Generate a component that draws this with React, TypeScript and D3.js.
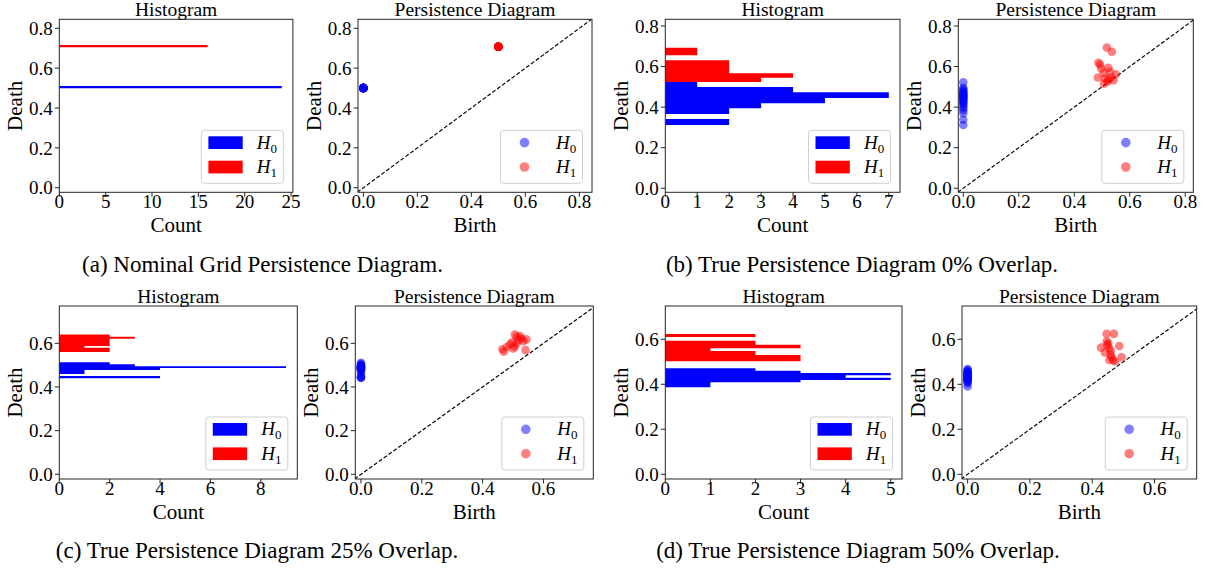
import React from "react";
import * as d3 from "d3";

const FONT = "'Liberation Serif', 'Times New Roman', serif";
const BLUE = "#0000ff";
const RED = "#ff0000";

// histogram rows: [death low, death high, count]
const histA_h0 = [[0.4988, 0.5104, 24]];
const histA_h1 = [[0.7045, 0.716, 16]];

const histB_h0 = [
  [0.4995, 0.524, 1],
  [0.4731, 0.4995, 4],
  [0.4452, 0.4731, 7],
  [0.4189, 0.4452, 5],
  [0.3943, 0.4189, 3],
  [0.3663, 0.3943, 2],
  [0.3121, 0.3417, 2],
];
const histB_h1 = [
  [0.6555, 0.6933, 1],
  [0.5667, 0.6308, 2],
  [0.5454, 0.5667, 4],
  [0.524, 0.5454, 3],
];

const histC_h0 = [
  [0.5037, 0.5129, 2],
  [0.4955, 0.5037, 3],
  [0.4875, 0.4955, 9],
  [0.4778, 0.4875, 4],
  [0.4595, 0.4778, 1],
  [0.4402, 0.4503, 4],
];
const histC_h1 = [
  [0.63, 0.641, 2],
  [0.621, 0.63, 3],
  [0.588, 0.621, 2],
  [0.58, 0.588, 1],
  [0.56, 0.58, 2],
];

const histD_h0 = [
  [0.4606, 0.471, 2],
  [0.4502, 0.4606, 3],
  [0.4399, 0.4502, 5],
  [0.4295, 0.4399, 4],
  [0.4191, 0.4295, 5],
  [0.4087, 0.4191, 3],
  [0.3865, 0.4087, 1],
];
const histD_h1 = [
  [0.61, 0.6236, 2],
  [0.5761, 0.5939, 2],
  [0.5598, 0.5761, 3],
  [0.548, 0.5598, 1],
  [0.53, 0.548, 2],
  [0.502, 0.53, 3],
];

// persistence points: [birth, death, multiplicity]
const pdA_h0 = [[0, 0.5, 24]];
const pdA_h1 = [[0.5, 0.707, 16]];

// H0 points are all born at 0, so only the deaths are listed
const pdB_h0 = [0.522, 0.495, 0.488, 0.481, 0.476, 0.471, 0.467, 0.462, 0.458, 0.454, 0.45, 0.447,
  0.443, 0.437, 0.431, 0.426, 0.421, 0.415, 0.405, 0.397, 0.385, 0.37, 0.338, 0.312];
const pdB_h1 = [
  [0.5175, 0.694], [0.5355, 0.673], [0.487, 0.619], [0.493, 0.61], [0.497, 0.59], [0.523, 0.594],
  [0.506, 0.569], [0.529, 0.574], [0.55, 0.562], [0.485, 0.546], [0.511, 0.541], [0.532, 0.546],
  [0.52, 0.525], [0.5415, 0.533], [0.507, 0.516], [0.523, 0.536],
];

const pdC_h0 = [0.511, 0.506, 0.502, 0.499, 0.497, 0.494, 0.493, 0.492, 0.491, 0.49, 0.489, 0.488,
  0.487, 0.486, 0.484, 0.482, 0.48, 0.479, 0.473, 0.463, 0.449, 0.446, 0.443, 0.441];
const pdC_h1 = [
  [0.465, 0.573], [0.47, 0.562], [0.48, 0.583], [0.49, 0.595], [0.497, 0.605], [0.506, 0.64],
  [0.512, 0.63], [0.517, 0.615], [0.523, 0.633], [0.528, 0.622], [0.534, 0.61], [0.544, 0.618],
  [0.541, 0.569], [0.506, 0.585], [0.512, 0.6], [0.5, 0.577],
];

const pdD_h0 = [0.468, 0.463, 0.458, 0.455, 0.452, 0.449, 0.447, 0.445, 0.443, 0.441, 0.438, 0.435,
  0.432, 0.43, 0.428, 0.426, 0.424, 0.422, 0.42, 0.417, 0.414, 0.411, 0.404, 0.39];
const pdD_h1 = [
  [0.446, 0.624], [0.4695, 0.624], [0.428, 0.563], [0.446, 0.59], [0.451, 0.582], [0.448, 0.575],
  [0.4866, 0.57], [0.4545, 0.56], [0.459, 0.548], [0.4406, 0.541], [0.459, 0.53], [0.494, 0.52],
  [0.462, 0.52], [0.4545, 0.508], [0.467, 0.508], [0.4727, 0.501],
];

const countTicksA = [0, 5, 10, 15, 20, 25];
const countTicksB = [0, 1, 2, 3, 4, 5, 6, 7];
const countTicksC = [0, 2, 4, 6, 8];
const countTicksD = [0, 1, 2, 3, 4, 5];
const valueTicksTop = [0, 0.2, 0.4, 0.6, 0.8];
const valueTicksBottom = [0, 0.2, 0.4, 0.6];

const captions = [
  "(a) Nominal Grid Persistence Diagram.",
  "(b) True Persistence Diagram 0% Overlap.",
  "(c) True Persistence Diagram 25% Overlap.",
  "(d) True Persistence Diagram 50% Overlap.",
];

const fmt1 = d3.format(".1f");

function HLabel({ x, y, sub }) {
  return (
    <text x={x} y={y} fontFamily={FONT} fontSize={19} fill="#000">
      <tspan fontStyle="italic">H</tspan>
      <tspan fontSize={13} dy={4}>{sub}</tspan>
    </text>
  );
}

function Legend({ box, kind }) {
  const w = 82, h = 53;
  const bx = box.r - 9.5 - w;
  const by = box.b - 9 - h;
  const rows = [{ c: BLUE, s: "0", y: 12.3 }, { c: RED, s: "1", y: 36.7 }];
  return (
    <g>
      <rect x={bx} y={by} width={w} height={h} rx={3} fill="#fff" fillOpacity={0.8} stroke="#d0d0d0" strokeWidth={1} />
      {rows.map((r) => (
        <g key={r.s}>
          {kind === "hist" ? (
            <rect x={bx + 7} y={by + r.y - 6.3} width={34.3} height={12.7} fill={r.c} />
          ) : (
            <circle cx={bx + 24} cy={by + r.y} r={4.8} fill={r.c} fillOpacity={0.5} />
          )}
          <HLabel x={bx + 55.4} y={by + r.y + 6} sub={r.s} />
        </g>
      ))}
    </g>
  );
}

function Frame({ box, x, y, xTicks, yTicks, xFmt, title, xLabel, children }) {
  const cx = (box.l + box.r) / 2;
  const cy = (box.t + box.b) / 2;
  return (
    <g>
      {children}
      <rect x={box.l} y={box.t} width={box.r - box.l} height={box.b - box.t} fill="none" stroke="#262626" strokeWidth={1} />
      {xTicks.map((t) => (
        <g key={"x" + t}>
          <line x1={x(t)} x2={x(t)} y1={box.b} y2={box.b + 4.5} stroke="#262626" strokeWidth={1} />
          <text x={x(t)} y={box.b + 16} textAnchor="middle" fontFamily={FONT} fontSize={19}>{xFmt(t)}</text>
        </g>
      ))}
      {yTicks.map((t) => (
        <g key={"y" + t}>
          <line x1={box.l - 4.5} x2={box.l} y1={y(t)} y2={y(t)} stroke="#262626" strokeWidth={1} />
          <text x={box.l - 6.6} y={y(t)} dy="0.35em" textAnchor="end" fontFamily={FONT} fontSize={19}>{fmt1(t)}</text>
        </g>
      ))}
      <text x={cx} y={box.t - 3} textAnchor="middle" fontFamily={FONT} fontSize={19.5}>{title}</text>
      <text x={cx} y={box.b + 40} textAnchor="middle" fontFamily={FONT} fontSize={21}>{xLabel}</text>
      <text transform={`translate(${box.l - 37},${cy}) rotate(-90)`} textAnchor="middle" fontFamily={FONT} fontSize={21}>Death</text>
    </g>
  );
}

function HistPanel({ box, xMax, yDom, xTicks, yTicks, h0, h1 }) {
  const x = d3.scaleLinear().domain([0, xMax]).range([box.l, box.r]);
  const y = d3.scaleLinear().domain(yDom).range([box.b, box.t]);
  // one path per series so adjacent bins fuse without antialiasing seams
  const barPath = (rows) => {
    const p = d3.path();
    rows.forEach(([lo, hi, n]) => p.rect(x(0), y(hi), x(n) - x(0), y(lo) - y(hi)));
    return p.toString();
  };
  return (
    <Frame box={box} x={x} y={y} xTicks={xTicks} yTicks={yTicks} xFmt={(d) => String(d)} title="Histogram" xLabel="Count">
      <path d={barPath(h0)} fill={BLUE} />
      <path d={barPath(h1)} fill={RED} />
      <Legend box={box} kind="hist" />
    </Frame>
  );
}

function PDPanel({ id, box, xDom, yDom, ticks, yTicks, h0, h1 }) {
  const x = d3.scaleLinear().domain(xDom).range([box.l, box.r]);
  const y = d3.scaleLinear().domain(yDom).range([box.b, box.t]);
  const lo = Math.min(xDom[0], yDom[0]);
  const hi = Math.max(xDom[1], yDom[1]);
  const dots = (pts, color) =>
    pts.flatMap(([b, d, n = 1], i) =>
      d3.range(n).map((k) => (
        <circle key={color + i + "-" + k} cx={x(b)} cy={y(d)} r={4.3} fill={color} fillOpacity={0.5} />
      ))
    );
  return (
    <Frame box={box} x={x} y={y} xTicks={ticks} yTicks={yTicks} xFmt={fmt1} title="Persistence Diagram" xLabel="Birth">
      <clipPath id={id}>
        <rect x={box.l} y={box.t} width={box.r - box.l} height={box.b - box.t} />
      </clipPath>
      <g clipPath={`url(#${id})`}>
        <line x1={x(lo)} y1={y(lo)} x2={x(hi)} y2={y(hi)} stroke="#000" strokeWidth={1.15} strokeDasharray="4,2" />
      </g>
      {dots(h0, BLUE)}
      {dots(h1, RED)}
      <Legend box={box} kind="pd" />
    </Frame>
  );
}

const zeroBirth = (deaths) => deaths.map((d) => [0, d, 1]);

export default function App() {
  const top = { t: 19.3, b: 192.3 };
  const bot = { t: 306, b: 479 };
  return (
    <svg width={1206} height={571} style={{ position: "absolute", left: 0, top: 0, background: "#fff" }}>
      <HistPanel box={{ l: 59.3, r: 292.9, ...top }} xMax={25.2} yDom={[-0.023, 0.845]} xTicks={countTicksA} yTicks={valueTicksTop} h0={histA_h0} h1={histA_h1} />
      <PDPanel id="cpa" box={{ l: 358, r: 592, ...top }} xDom={[-0.02, 0.847]} yDom={[-0.023, 0.845]} ticks={valueTicksTop} yTicks={valueTicksTop} h0={pdA_h0} h1={pdA_h1} />

      <HistPanel box={{ l: 665.3, r: 900, ...top }} xMax={7.35} yDom={[-0.02, 0.833]} xTicks={countTicksB} yTicks={valueTicksTop} h0={histB_h0} h1={histB_h1} />
      <PDPanel id="cpb" box={{ l: 958.3, r: 1193.3, ...top }} xDom={[-0.018, 0.829]} yDom={[-0.02, 0.833]} ticks={valueTicksTop} yTicks={valueTicksTop} h0={zeroBirth(pdB_h0)} h1={pdB_h1} />

      <HistPanel box={{ l: 59.3, r: 297.3, ...bot }} xMax={9.45} yDom={[-0.0215, 0.771]} xTicks={countTicksC} yTicks={valueTicksBottom} h0={histC_h0} h1={histC_h1} />
      <PDPanel id="cpc" box={{ l: 355.3, r: 593.3, ...bot }} xDom={[-0.0186, 0.764]} yDom={[-0.0215, 0.771]} ticks={valueTicksBottom} yTicks={valueTicksBottom} h0={zeroBirth(pdC_h0)} h1={pdC_h1} />

      <HistPanel box={{ l: 665.3, r: 902, ...bot }} xMax={5.25} yDom={[-0.021, 0.748]} xTicks={countTicksD} yTicks={valueTicksBottom} h0={histD_h0} h1={histD_h1} />
      <PDPanel id="cpd" box={{ l: 962, r: 1196.7, ...bot }} xDom={[-0.018, 0.735]} yDom={[-0.021, 0.748]} ticks={valueTicksBottom} yTicks={valueTicksBottom} h0={zeroBirth(pdD_h0)} h1={pdD_h1} />

      {captions.map((c, i) => (
        <text key={c} x={[262.5, 862, 257, 858][i]} y={[271.5, 271.5, 557.7, 557.7][i]} textAnchor="middle" fontFamily={FONT} fontSize={23}>{c}</text>
      ))}
    </svg>
  );
}
